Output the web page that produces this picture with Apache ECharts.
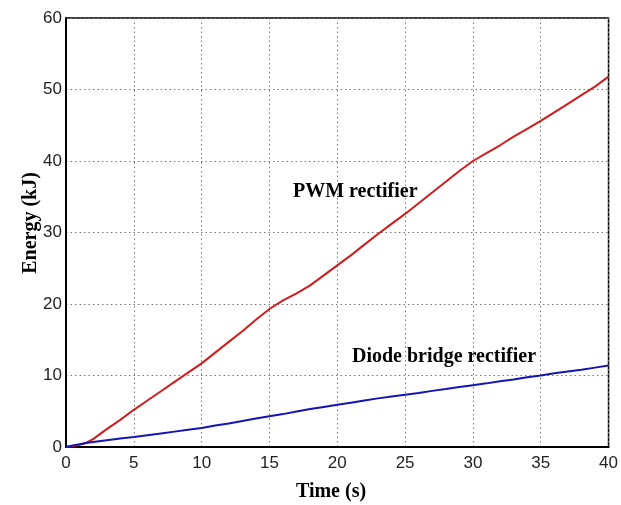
<!DOCTYPE html>
<html>
<head>
<meta charset="utf-8">
<script src="https://cdn.jsdelivr.net/npm/echarts@6/dist/echarts.min.js"></script>
<style>html,body{margin:0;padding:0;background:#fff}#c{width:621px;height:505px}</style>
</head>
<body>
<div id="c"></div>
<script>
var timeS = [0,0.5,1,1.5,2,3,4,5,6,7,8,9,10,11,12,13,14,15,16,17,18,19,20,21,22,23,24,25,26,27,28,29,30,31,32,33,34,35,36,37,38,39,40];
var pwmEnergy = [0,0.1,0.3,0.6,1.1,2.5,3.8,5.2,6.5,7.8,9.1,10.4,11.7,13.2,14.7,16.2,17.8,19.3,20.5,21.5,22.6,24.0,25.4,26.8,28.3,29.8,31.2,32.6,34.1,35.6,37.1,38.6,40.0,41.1,42.2,43.4,44.5,45.6,46.8,48.0,49.2,50.4,51.8];
var diodeEnergy = [0,0.2,0.4,0.55,0.7,0.95,1.2,1.4,1.65,1.9,2.15,2.4,2.65,3.0,3.3,3.65,4.0,4.3,4.6,4.95,5.3,5.6,5.9,6.2,6.5,6.8,7.05,7.3,7.55,7.85,8.1,8.4,8.65,8.9,9.2,9.45,9.75,10.0,10.3,10.55,10.8,11.1,11.4];
var seriesNames = ['PWM rectifier', 'Diode bridge rectifier'];
var xTitle = 'Time (s)';
var yTitle = 'Energy (kJ)';

function pairs(xs, ys){ return xs.map(function(x,i){ return [x, ys[i]]; }); }

var chart = echarts.init(document.getElementById('c'), null, {renderer:'canvas'});
var serif = '"Liberation Serif","Times New Roman",serif';
var sans = '"Liberation Sans",Arial,sans-serif';
chart.setOption({
  animation:false,
  backgroundColor:'#fff',
  grid:{left:66,right:10,top:18,bottom:58,show:true,borderColor:'#000',borderWidth:1.5,backgroundColor:'transparent'},
  xAxis:{type:'value',min:0,max:40,interval:5,
    axisLine:{show:true,lineStyle:{color:'#000',width:2}},
    axisTick:{show:false},
    axisLabel:{color:'#222',fontSize:17,fontFamily:sans,margin:8},
    splitLine:{show:true,lineStyle:{color:'#777',type:[1.5,3],width:1}}},
  yAxis:{type:'value',min:0,max:60,interval:10,
    axisLine:{show:true,lineStyle:{color:'#000',width:2}},
    axisTick:{show:false},
    axisLabel:{color:'#222',fontSize:17,fontFamily:sans,margin:4},
    splitLine:{show:true,lineStyle:{color:'#777',type:[1.5,3],width:1}}},
  series:[
    {name:seriesNames[0],type:'line',data:pairs(timeS,pwmEnergy),showSymbol:false,
      lineStyle:{color:'#d01c1c',width:2},itemStyle:{color:'#d01c1c'}},
    {name:seriesNames[1],type:'line',data:pairs(timeS,diodeEnergy),showSymbol:false,
      lineStyle:{color:'#1414b4',width:2},itemStyle:{color:'#1414b4'}}
  ],
  graphic:[
    {type:'text',left:293,top:182,style:{text:seriesNames[0],font:'bold 20px '+serif,fill:'#000'}},
    {type:'text',left:352,top:347,style:{text:seriesNames[1],font:'bold 20px '+serif,fill:'#000'}},
    {type:'text',x:31,y:223,rotation:Math.PI/2,style:{text:yTitle,font:'bold 20px '+serif,fill:'#000',align:'center',verticalAlign:'middle'}},
    {type:'text',x:331,y:492,style:{text:xTitle,font:'bold 20px '+serif,fill:'#000',align:'center',verticalAlign:'middle'}}
  ]
});
</script>
</body>
</html>
